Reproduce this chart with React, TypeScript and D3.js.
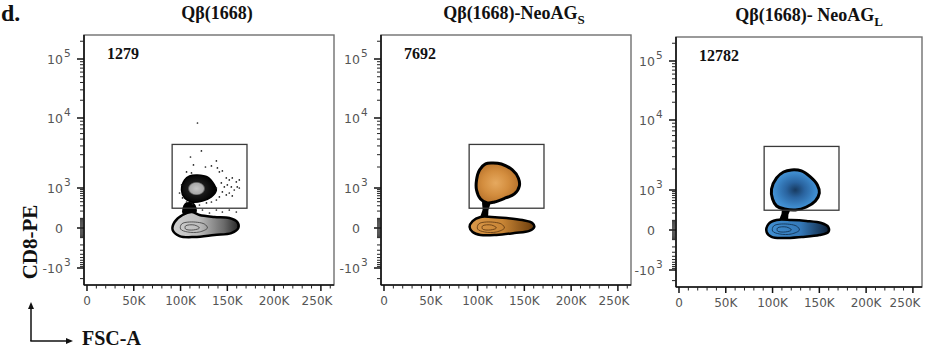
import React from 'react';
import * as d3 from 'd3';

type Pt = [number, number];

// titles and gate counts
const panelTitles = ['Qβ(1668)', 'Qβ(1668)-NeoAG', 'Qβ(1668)- NeoAG'];
const titleSubscripts = ['', 'S', 'L'];
const gateCounts = ['1279', '7692', '12782'];

// axes
const fscTicks = [0, 50000, 100000, 150000, 200000, 250000];
const fscTickLabels = ['0', '50K', '100K', '150K', '200K', '250K'];
const cd8Ticks = [-1000, 0, 1000, 10000, 100000];
const cd8TickBase = ['-10', '0', '10', '10', '10'];
const cd8TickExp = ['3', '', '3', '4', '5'];

// gate (FSC-A x CD8-PE)
const gateFsc = [91000, 171000];
const gateCd8 = [250, 4200];

// Qβ(1668): contour outlines (FSC-A, CD8-PE)
const upper1: Pt[] = [
  [118100, 1538], [128700, 1442], [136200, 1107], [138300, 877], [133000, 552], [123400, 420],
  [111700, 392], [104300, 516], [101000, 877], [104300, 1307], [109600, 1490],
];
const lower1: Pt[] = [
  [93600, 60], [102100, 142], [111700, 185], [120200, 142], [136200, 117], [152100, 104],
  [160600, 60], [161700, 0], [154300, -50], [136200, -70], [114900, -93], [98900, -82], [91500, -19],
];
const neck1: Pt[] = [[105300, 340], [113800, 340], [116000, 185], [103200, 170]];
const dots1: Pt[] = [
  [118100, 8490], [122300, 3390], [110600, 2780], [138300, 2440], [113800, 2140], [126600, 2000],
  [133000, 2070], [106400, 1700], [141500, 1700], [144700, 1755], [148900, 1394], [152100, 1307],
  [155300, 1394], [159600, 1222], [162800, 1307], [143600, 1182], [146800, 1035], [150000, 1107],
  [154300, 1035], [157400, 877], [160600, 1035], [144700, 770], [148900, 632], [152100, 720],
  [155300, 590], [141500, 552], [138300, 450], [133000, 392], [127700, 366], [120200, 317],
  [112800, 340], [106400, 392], [102100, 516], [98900, 720], [101100, 1107], [138300, 218],
  [144700, 185], [152100, 218], [159600, 185], [130900, 170], [123400, 218], [162800, 1000],
  [138300, 1000], [139400, 1940], [111700, 1645],
];

// Qβ(1668)-NeoAG S
const upper2: Pt[] = [
  [102100, 1814], [108500, 2211], [114900, 2286], [125500, 2211], [137200, 1814], [143600, 1394],
  [144700, 1070], [139400, 674], [129800, 516], [118100, 392], [110600, 366], [103200, 482],
  [98900, 877], [98900, 1307],
];
const lower2: Pt[] = [
  [94700, 70], [103200, 117], [114900, 117], [130900, 104], [147900, 81], [158500, 50],
  [160600, 10], [155300, -29], [139400, -50], [120200, -70], [103200, -70], [94700, -39], [91500, 10],
];
const neck2: Pt[] = [[106400, 420], [112800, 420], [110600, 218], [109600, 110], [104300, 110], [106400, 218]];

// Qβ(1668)-NeoAG L
const upper3: Pt[] = [
  [104300, 1490], [111700, 1814], [120200, 1940], [130900, 1875], [140400, 1538], [147900, 1182],
  [150000, 822], [145700, 482], [136200, 317], [124500, 255], [112800, 275], [104300, 340],
  [100000, 552], [98900, 1035],
];
const lower3: Pt[] = [
  [95700, 60], [104300, 104], [120200, 104], [136200, 93], [152100, 70], [159600, 29],
  [159600, -19], [150000, -50], [130900, -70], [111700, -82], [98900, -70], [93600, -19],
];
const neck3: Pt[] = [[111700, 300], [118100, 290], [116000, 185], [114900, 100], [108500, 100], [110600, 185]];

// inner contour loops of the CD8- population
const innerA: Pt[] = [[101100, 39], [109600, 60], [125500, 39], [128700, 0], [120200, -39], [107400, -39], [100000, -10]];
const innerB: Pt[] = [[105300, 20], [114900, 29], [120200, 0], [113800, -19], [105300, -10]];

const uppers = [upper1, upper2, upper3];
const lowers = [lower1, lower2, lower3];
const necks = [neck1, neck2, neck3];
const dots: Pt[][] = [dots1, [], []];

const panels = [
  { x: 84, y: 35, w: 250 },
  { x: 381, y: 35, w: 250 },
  { x: 676, y: 37, w: 246 },
];
const PH = 250;

const palettes = [
  {
    up: [['0', '#c6c6c6'], ['0.36', '#aaaaaa'], ['0.46', '#1a1a1a'], ['1', '#000']],
    low: [['0', '#cfcfcf'], ['0.4', '#bdbdbd'], ['0.78', '#6a6a6a'], ['1', '#262626']],
    inner: '#3a3a3a', upStroke: 1.5, upCx: 0.43,
  },
  {
    up: [['0', '#e6a95f'], ['0.55', '#d38d3e'], ['1', '#b5702a']],
    low: [['0', '#d99749'], ['0.5', '#c98636'], ['0.92', '#7a4812'], ['1', '#5a340c']],
    inner: '#5a3510', upStroke: 3, upCx: 0.45,
  },
  {
    up: [['0', '#173a60'], ['0.35', '#2a64a0'], ['0.75', '#3d89cb'], ['1', '#4b99da']],
    low: [['0', '#4190d2'], ['0.55', '#3478b8'], ['0.92', '#14304f'], ['1', '#0c1e33']],
    inner: '#0e2b47', upStroke: 3, upCx: 0.5,
  },
];

const biex = (v: number) => Math.asinh(v / 150) / Math.LN10;
const xScale = d3.scaleLinear().domain([-3200, 264000]).range([0, 250]);
const yScale = d3.scaleLinear().domain(cd8Ticks.map(biex)).range([233, 193, 153, 83, 24]);
const yPos = (v: number) => yScale(biex(v));

const blobLine = d3
  .line<Pt>()
  .x((d) => xScale(d[0]))
  .y((d) => yPos(d[1]))
  .curve(d3.curveCatmullRomClosed.alpha(0.5));

const yMinorPos = [
  ...d3.range(10, 100, 10),
  ...d3.range(100, 1000, 100),
  ...d3.range(2000, 10000, 1000),
  ...d3.range(20000, 100000, 10000),
  200000,
];
const yMinor = [...yMinorPos, ...yMinorPos.filter((v) => v <= 2000).map((v) => -v)];
const xMinor = d3.range(10000, 264000, 10000).filter((v) => v % 50000 !== 0);

const serif = '"Liberation Serif", "Times New Roman", serif';
const sans = '"DejaVu Sans", Verdana, sans-serif';

const Panel = ({ i }: { i: number }) => {
  const p = panels[i];
  const pal = palettes[i];
  const [gx0, gx1] = gateFsc.map(xScale);
  const [gy0, gy1] = gateCd8.map(yPos);
  return (
    <g transform={`translate(${p.x},${p.y})`}>
      <defs>
        <radialGradient id={`up${i}`} cx={pal.upCx} cy={0.5} r={0.55}>
          {pal.up.map(([o, c]) => <stop key={o} offset={o} stopColor={c} />)}
        </radialGradient>
        <linearGradient id={`low${i}`} x1="0" x2="1" y1="0" y2="0">
          {pal.low.map(([o, c]) => <stop key={o} offset={o} stopColor={c} />)}
        </linearGradient>
        <clipPath id={`clip${i}`}>
          <rect x={0} y={0} width={p.w} height={PH} />
        </clipPath>
      </defs>
      <rect x={0} y={0} width={p.w} height={PH} fill="#fff" stroke="#707070" strokeWidth={1.4} />
      <g clipPath={`url(#clip${i})`}>
        <path d={blobLine(necks[i]) || ''} fill="#000" stroke="#000" strokeWidth={2} />
        <path d={blobLine(lowers[i]) || ''} fill={`url(#low${i})`} stroke="#000" strokeWidth={2.5} />
        <path d={blobLine(innerA) || ''} fill="none" stroke={pal.inner} strokeWidth={0.8} />
        <path d={blobLine(innerB) || ''} fill="none" stroke={pal.inner} strokeWidth={0.8} />
        <path d={blobLine(uppers[i]) || ''} fill={`url(#up${i})`} stroke="#000" strokeWidth={pal.upStroke} />
        {dots[i].map((d, k) => (
          <circle key={k} cx={xScale(d[0])} cy={yPos(d[1])} r={0.85} fill="#222" />
        ))}
        <rect x={gx0} y={gy1} width={gx1 - gx0} height={gy0 - gy1} fill="none" stroke="#3a3a3a" strokeWidth={1.3} />
      </g>
      <text x={23} y={24} fontFamily={serif} fontWeight="bold" fontSize={16} fill="#111">
        {gateCounts[i]}
      </text>

      {/* y axis */}
      <line x1={0} x2={0} y1={0} y2={PH} stroke="#111" strokeWidth={1.6} />
      {yMinor
        .filter((v) => yPos(v) > 2 && yPos(v) < PH - 1)
        .map((v) => (
          <line key={v} x1={-4} x2={0} y1={yPos(v)} y2={yPos(v)} stroke="#222" strokeWidth={1} />
        ))}
      {cd8Ticks.map((v, k) => (
        <g key={v}>
          <line x1={-7} x2={0} y1={yPos(v)} y2={yPos(v)} stroke="#111" strokeWidth={1.5} />
          <text x={-21} y={yPos(v) + 5} textAnchor="end" fontFamily={sans} fontSize={12.5} fill="#555">
            {cd8TickBase[k]}
          </text>
          {cd8TickExp[k] && (
            <text x={-20} y={yPos(v) - 2} fontFamily={sans} fontSize={10.5} fill="#555">
              {cd8TickExp[k]}
            </text>
          )}
        </g>
      ))}

      {/* x axis */}
      <line x1={0} x2={p.w} y1={PH} y2={PH} stroke="#111" strokeWidth={1.6} />
      {xMinor
        .filter((v) => xScale(v) < p.w - 1)
        .map((v) => (
          <line key={v} x1={xScale(v)} x2={xScale(v)} y1={PH} y2={PH + 3.5} stroke="#222" strokeWidth={1} />
        ))}
      {fscTicks.map((v, k) => {
        const tx = Math.min(xScale(v), p.w - 17);
        return (
          <g key={v}>
            <line x1={xScale(v)} x2={xScale(v)} y1={PH} y2={PH + 6} stroke="#111" strokeWidth={1.5} />
            <text x={tx} y={PH + 20} textAnchor="middle" fontFamily={sans} fontSize={12} fill="#555">
              {fscTickLabels[k]}
            </text>
          </g>
        );
      })}

      <text x={133} y={-16} textAnchor="middle" fontFamily={serif} fontWeight="bold" fontSize={18} fill="#111">
        {panelTitles[i]}
        {titleSubscripts[i] && (
          <tspan fontSize={13} dy={5}>
            {titleSubscripts[i]}
          </tspan>
        )}
      </text>
    </g>
  );
};

export default function App() {
  return (
    <svg
      width={926}
      height={350}
      style={{ position: 'absolute', left: 0, top: 0, background: '#fff' }}
    >
      <rect width={926} height={350} fill="#fff" />
      <text x={1} y={21} fontFamily={serif} fontWeight="bold" fontSize={24} fill="#111">
        d.
      </text>
      {panels.map((_, i) => (
        <Panel key={i} i={i} />
      ))}
      <text
        transform="translate(37,242) rotate(-90)"
        textAnchor="middle"
        fontFamily={serif}
        fontWeight="bold"
        fontSize={21}
        fill="#111"
      >
        CD8-PE
      </text>
      <line x1={31} x2={31} y1={341} y2={307} stroke="#111" strokeWidth={1.5} />
      <polygon points="31,302 28,309 34,309" fill="#111" />
      <line x1={30.3} x2={68} y1={341} y2={341} stroke="#111" strokeWidth={1.5} />
      <polygon points="73,341 66,338 66,344" fill="#111" />
      <text x={82} y={345} fontFamily={serif} fontWeight="bold" fontSize={20} fill="#111">
        FSC-A
      </text>
    </svg>
  );
}
